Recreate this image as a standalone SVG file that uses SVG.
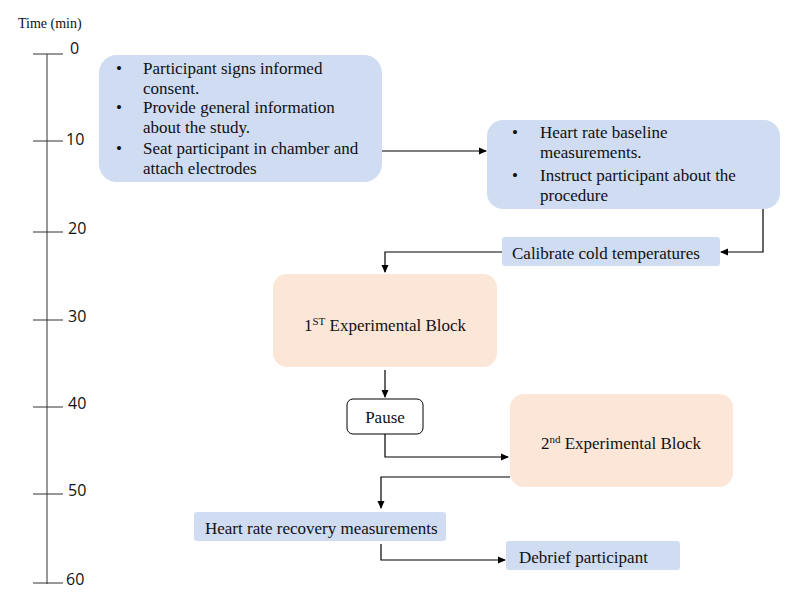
<svg xmlns="http://www.w3.org/2000/svg" width="800" height="611" viewBox="0 0 800 611">
<defs>
<marker id="ah" markerWidth="8" markerHeight="8" refX="7" refY="4" orient="auto" markerUnits="userSpaceOnUse"><path d="M0,0.5 L8,4 L0,7.5 Z" fill="#000"/></marker>
<style>
.t{font-family:"Liberation Serif","Times New Roman",serif;font-size:17px;fill:#111}
.ax{font-family:"Open Sans","Liberation Sans",sans-serif;font-size:16px;fill:#111}
.blue{fill:#cfdcf1}
.peach{fill:#fce6d7}
.c{fill:none;stroke:#000;stroke-width:1.2;marker-end:url(#ah)}
.ln{stroke:#333;stroke-width:1}
</style>
</defs>
<rect width="800" height="611" fill="#fff"/>
<g id="axis">
<text x="18" y="28" class="t" style="font-size:14px">Time (min)</text>
<line x1="47" y1="54" x2="47" y2="584" class="ln"/>
<line x1="33" y1="54" x2="63" y2="54" class="ln"/><text x="70" y="54" class="ax">0</text>
<line x1="33" y1="141" x2="63" y2="141" class="ln"/><text x="66" y="145" class="ax">10</text>
<line x1="33" y1="232" x2="63" y2="232" class="ln"/><text x="68" y="234" class="ax">20</text>
<line x1="33" y1="320" x2="63" y2="320" class="ln"/><text x="68" y="322" class="ax">30</text>
<line x1="33" y1="407" x2="63" y2="407" class="ln"/><text x="68" y="409" class="ax">40</text>
<line x1="33" y1="494" x2="63" y2="494" class="ln"/><text x="68" y="496" class="ax">50</text>
<line x1="33" y1="583" x2="63" y2="583" class="ln"/><text x="66" y="585" class="ax">60</text>
</g>
<g id="n1">
<rect x="99" y="55" width="283" height="127" rx="18" class="blue"/>
<text class="t"><tspan x="116" y="74">•</tspan><tspan x="143" y="74">Participant signs informed</tspan><tspan x="143" y="94">consent.</tspan><tspan x="116" y="113">•</tspan><tspan x="143" y="113">Provide general information</tspan><tspan x="143" y="133">about the study.</tspan><tspan x="116" y="154">•</tspan><tspan x="143" y="154">Seat participant in chamber and</tspan><tspan x="143" y="174">attach electrodes</tspan></text>
</g>
<g id="n2">
<rect x="487" y="120" width="293" height="89" rx="16" class="blue"/>
<text class="t"><tspan x="512" y="138">•</tspan><tspan x="540" y="138">Heart rate baseline</tspan><tspan x="540" y="158">measurements.</tspan><tspan x="512" y="181">•</tspan><tspan x="540" y="181">Instruct participant about the</tspan><tspan x="540" y="201">procedure</tspan></text>
</g>
<g id="n3">
<rect x="502" y="237" width="218" height="29" rx="3" class="blue"/>
<text x="512" y="259" class="t">Calibrate cold temperatures</text>
</g>
<g id="n4">
<rect x="273" y="274" width="224" height="93" rx="14" class="peach"/>
<text x="385" y="331" class="t" text-anchor="middle">1<tspan dy="-6" font-size="11">ST</tspan><tspan dy="6"> Experimental Block</tspan></text>
</g>
<g id="n5">
<rect x="347" y="399" width="76" height="35" rx="6" fill="#fff" stroke="#000" stroke-width="1"/>
<text x="385" y="423" class="t" text-anchor="middle">Pause</text>
</g>
<g id="n6">
<rect x="510" y="394" width="223" height="93" rx="14" class="peach"/>
<text x="621" y="449" class="t" text-anchor="middle">2<tspan dy="-6" font-size="11">nd</tspan><tspan dy="6"> Experimental Block</tspan></text>
</g>
<g id="n7">
<rect x="194" y="512" width="252" height="29" rx="3" class="blue"/>
<text x="205" y="534" class="t">Heart rate recovery measurements</text>
</g>
<g id="n8">
<rect x="506" y="541" width="174" height="29" rx="3" class="blue"/>
<text x="519" y="563" class="t">Debrief participant</text>
</g>
<g id="connectors">
<path d="M382,151 H486" class="c"/>
<path d="M763,209 V252 H721" class="c"/>
<path d="M502,252 H385 V272" class="c"/>
<path d="M385,370 V397" class="c"/>
<path d="M385,434 V457 H508" class="c"/>
<path d="M510,477 H381 V508" class="c"/>
<path d="M381,544 V560 H505" class="c"/>
</g>
</svg>
